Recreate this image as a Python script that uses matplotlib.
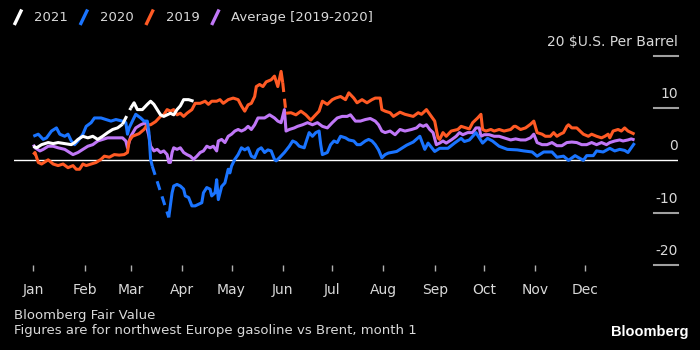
import matplotlib
matplotlib.use('Agg')
import matplotlib.pyplot as plt
from matplotlib.lines import Line2D
import numpy as np

nan = np.nan

# day of year (0 = Jan 1) and spread in $ per barrel; nan marks a data gap
days_2021 = [0, 2, 5, 9, 12, 15, 19, 23, 25, 27, 30, 33, 36, 39, 42, 45, 48, 51, 54,
             56, 59, 61, 63, 66, 69, 71, 73, 75, 77, 79, 81, 83, 85, 87, 89, 91, 94, 97]
vals_2021 = [2.7, 2.4, 3.0, 3.4, 3.2, 3.4, 3.2, 3.0, 3.4, 4.0, 4.6, 4.3, 4.6, 4.0, 4.6, 5.3, 5.9, 6.2, 6.9,
             nan, 10.0, 11.0, 9.7, 9.7, 10.7, 11.3, 10.7, 9.7, 8.7, 8.4, 8.7, 9.0, 8.7, 9.7, 10.4, 11.6, 11.6, 11.3]

days_2020 = [0, 3, 6, 8, 11, 14, 16, 19, 21, 23, 25, 27, 30, 32, 35, 37, 41, 44, 47, 50, 54, 56, 57, 58,
             60, 62, 65, 67, 69, 70, 71, 72, 77, 82, 84, 85, 87, 89, 91, 92, 94, 96, 98, 100, 102, 103,
             105, 107, 108, 110, 111, 112, 114, 116, 118, 119, 120, 122, 124, 126, 128, 130, 132, 134,
             136, 138, 140, 142, 144, 146, 147, 149, 152, 155, 157, 159, 161, 164, 165, 167, 169, 171,
             173, 174, 175, 178, 180, 182, 184, 186, 189, 191, 194, 196, 198, 201, 203, 205, 207, 209,
             211, 213, 215, 220, 226, 230, 234, 237, 239, 243, 246, 251, 255, 259, 261, 264, 268, 272,
             275, 278, 282, 287, 293, 297, 302, 305, 309, 314, 317, 321, 324, 328, 333, 335, 339, 341,
             345, 349, 352, 355, 358, 360, 364]
vals_2020 = [4.6, 5.0, 4.0, 4.3, 5.6, 6.2, 5.0, 4.6, 5.0, 3.7, 3.0, 3.7, 5.0, 6.5, 7.2, 8.1, 8.1, 7.8, 7.5, 7.8, 7.5, 7.2, 5.0, 6.2,
             7.5, 8.8, 8.1, 7.5, 7.5, 5.3, 0.2, -1.1, nan, -10.9, -6.2, -4.9, -4.6, -4.9, -5.5, -6.8, -7.1, -8.7, -8.7, -8.4, -8.1, -6.2,
             -5.2, -5.5, -6.8, -6.2, -3.7, -7.5, -5.0, -4.3, -1.7, -2.4, -1.1, 0.2, 1.1, 2.4, 2.0, 2.4, 0.8, 0.5,
             2.0, 2.4, 1.5, 2.0, 1.8, 0.2, -0.1, 0.5, 1.5, 2.7, 3.7, 3.4, 2.7, 2.4, 3.4, 5.3, 4.6, 5.3,
             5.6, 3.0, 1.1, 1.5, 3.0, 3.7, 3.4, 4.6, 4.3, 3.9, 3.7, 3.0, 3.0, 3.7, 4.0, 3.7, 3.0, 2.0,
             0.5, 1.1, 1.4, 1.7, 2.9, 3.5, 4.6, 2.1, 3.3, 1.7, 2.3, 2.3, 3.3, 4.2, 3.6, 3.9, 5.3, 3.3,
             4.2, 3.7, 2.7, 2.1, 2.0, 1.8, 1.6, 0.8, 1.6, 1.6, 0.6, 0.8, 0.0, 0.9, 0.0, 0.9, 0.9, 1.8,
             1.6, 2.3, 1.8, 2.1, 1.9, 1.5, 3.3]

days_2019 = [0, 1, 3, 5, 9, 12, 15, 18, 21, 24, 26, 28, 30, 32, 35, 38, 41, 43, 46, 49, 52, 55, 57, 58,
             60, 64, 67, 69, 71, 74, 77, 79, 81, 83, 85, 87, 89, 91, 93, 96, 98, 101, 104, 106, 108, 111,
             113, 115, 118, 121, 124, 126, 128, 130, 132, 134, 135, 137, 139, 141, 144, 146, 148, 150, 151,
             152, 153, 156, 159, 162, 165, 168, 170, 173, 175, 178, 181, 183, 186, 189, 191, 194, 196, 199,
             202, 205, 207, 210, 211, 213, 216, 218, 222, 225, 230, 233, 235, 238, 241, 243, 245, 246, 248,
             250, 253, 257, 259, 262, 264, 266, 269, 271, 272, 274, 277, 279, 282, 285, 289, 291, 292, 295,
             298, 301, 303, 305, 308, 310, 313, 315, 317, 319, 321, 323, 324, 326, 329, 331, 333, 336, 338,
             341, 344, 346, 348, 349, 351, 354, 356, 358, 360, 362, 364]
vals_2019 = [1.1, 1.5, -0.4, -0.7, 0.1, -0.7, -1.0, -0.7, -1.4, -1.0, -1.7, -1.7, -0.7, -1.0, -0.7, -0.4, 0.2, 0.8, 0.6, 1.1, 1.0, 1.1, 1.5, 3.7,
             4.6, 5.1, 5.9, 6.8, 6.8, 7.4, 8.4, 8.7, 9.7, 9.4, 9.7, 8.7, 9.0, 8.4, 9.0, 9.7, 10.9, 10.9, 11.3, 10.7, 11.3, 11.3,
             11.6, 10.9, 11.6, 11.9, 11.6, 10.4, 9.4, 10.6, 10.9, 12.2, 14.1, 14.5, 14.1, 15.0, 15.4, 16.1, 14.1, 17.0, 14.8,
             nan, 9.0, 9.1, 8.7, 9.4, 8.7, 7.7, 8.4, 9.4, 11.3, 10.7, 11.6, 11.9, 12.2, 11.6, 12.9, 11.9, 11.0, 11.6,
             11.0, 11.6, 11.9, 11.9, 9.7, 9.4, 9.1, 8.4, 9.2, 8.8, 8.4, 9.1, 8.8, 9.7, 8.4, 7.5, 4.3, 4.0, 5.3,
             4.6, 5.6, 5.9, 6.5, 6.2, 6.0, 7.2, 8.1, 8.8, 5.9, 5.6, 5.9, 5.6, 5.9, 5.6, 5.9, 6.5, 6.5, 5.9,
             6.2, 6.9, 7.5, 5.3, 5.0, 4.6, 4.6, 5.3, 4.6, 5.0, 5.3, 6.5, 6.8, 6.2, 6.2, 5.6, 5.0, 4.6, 5.0,
             4.6, 4.3, 4.6, 5.0, 4.3, 5.6, 5.9, 5.6, 6.2, 5.6, 5.3, 5.0]

days_avg = [0, 1, 4, 6, 9, 12, 15, 19, 22, 24, 27, 30, 33, 36, 39, 42, 45, 49, 54, 56, 57, 59, 62, 65,
            68, 70, 71, 73, 75, 77, 79, 81, 82, 83, 84, 85, 87, 89, 91, 93, 95, 97, 99, 101, 103, 105,
            107, 109, 111, 112, 114, 116, 118, 120, 122, 124, 126, 128, 130, 132, 134, 136, 138, 140, 143,
            146, 148, 150, 152, 153, 155, 158, 160, 163, 166, 169, 172, 175, 178, 181, 184, 187, 190, 192,
            195, 198, 201, 204, 207, 209, 211, 213, 216, 219, 222, 225, 229, 232, 234, 236, 238, 240, 242,
            244, 246, 248, 250, 253, 256, 258, 260, 263, 266, 268, 270, 271, 273, 276, 279, 282, 285, 289,
            292, 295, 298, 301, 303, 305, 308, 311, 314, 317, 320, 323, 326, 329, 332, 335, 338, 341, 344,
            347, 349, 352, 355, 357, 360, 362, 364]
vals_avg = [3.0, 2.4, 1.8, 2.1, 2.7, 2.7, 2.4, 2.1, 1.5, 1.1, 1.5, 2.1, 2.7, 3.0, 3.7, 4.0, 4.3, 4.3, 4.3, 3.7, 2.4, 4.6, 6.2, 6.8,
            7.2, 4.6, 2.7, 1.8, 2.1, 1.5, 1.8, 1.1, -0.4, -0.4, 1.5, 2.4, 2.1, 2.4, 1.5, 1.1, 0.8, 0.2, 0.8, 1.5, 1.8, 2.7,
            2.4, 2.7, 1.8, 3.7, 4.0, 3.4, 4.6, 5.0, 5.6, 5.9, 5.6, 5.9, 6.5, 5.9, 6.8, 8.1, 8.1, 8.1, 8.7,
            8.1, 7.5, 7.2, 9.7, 5.6, 5.9, 6.2, 6.5, 6.8, 7.2, 6.8, 7.2, 6.5, 6.2, 7.2, 8.1, 8.4, 8.4, 8.7,
            7.5, 7.5, 7.8, 8.0, 7.5, 6.8, 5.6, 5.3, 5.6, 4.9, 5.9, 5.6, 5.9, 6.2, 6.8, 6.5, 6.8, 5.9, 5.3,
            3.0, 3.3, 3.7, 3.3, 3.9, 4.6, 5.3, 4.9, 5.3, 5.3, 6.2, 6.2, 4.6, 4.9, 4.9, 4.6, 4.6, 4.3, 3.9,
            4.1, 3.9, 3.9, 4.3, 5.0, 3.4, 3.0, 3.0, 3.4, 2.8, 2.8, 3.4, 3.5, 3.4, 3.0, 3.0, 3.4, 3.0, 3.4,
            3.0, 3.4, 3.7, 3.9, 3.7, 3.9, 4.1, 3.9]

series = [
    ('Average [2019-2020]', days_avg, vals_avg, '#c077f7'),
    ('2019', days_2019, vals_2019, '#ff5a24'),
    ('2020', days_2020, vals_2020, '#1a74ff'),
    ('2021', days_2021, vals_2021, '#ffffff'),
]
legend_order = ['2021', '2020', '2019', 'Average [2019-2020]']

month_starts = [0, 31, 59, 90, 120, 151, 181, 212, 243, 273, 304, 334]
month_labels = ['Jan', 'Feb', 'Mar', 'Apr', 'May', 'Jun', 'Jul', 'Aug', 'Sep', 'Oct', 'Nov', 'Dec']
y_ticks = [20, 10, 0, -10, -20]

FONT = ['DejaVu Sans Condensed', 'Liberation Sans Narrow', 'DejaVu Sans']
plt.rcParams['font.family'] = FONT
TXT = '#d9d9d9'
BG = '#000000'

fig = plt.figure(figsize=(7, 3.5), dpi=100, facecolor=BG)
ax = fig.add_axes([14 / 700, 1 - 265 / 350, 664 / 700, 209.3 / 350], facecolor=BG)
ax.set_xlim(-11.7, 390.3)
ax.set_ylim(-20, 20)
for s in ax.spines.values():
    s.set_visible(False)

# zero line
ax.axhline(0, color='white', lw=1.0, zorder=1)

def draw_series(d, v, color):
    d = np.array(d, dtype=float)
    v = np.array(v, dtype=float)
    ax.plot(d, v, color=color, lw=2.2, solid_joinstyle='round', solid_capstyle='butt', zorder=3)
    # gaps in the data are bridged with a dashed segment
    for i in np.where(np.isnan(v))[0]:
        ax.plot([d[i - 1], d[i + 1]], [v[i - 1], v[i + 1]], color=color, lw=2.2,
                dashes=(3, 2.2), zorder=3)

for name, d, v, c in series:
    draw_series(d, v, c)

# right axis: short tick lines with labels sitting above them
tr = ax.get_yaxis_transform()
for yv in y_ticks:
    if yv != 0:
        ax.plot([0.964, 1.0], [yv, yv], color='#a0a0a0', lw=1.5, transform=tr, clip_on=False)
    lab = '20 $U.S. Per Barrel' if yv == 20 else str(yv)
    ax.text(1.0, yv + 1.9, lab, transform=tr, ha='right', va='baseline',
            color=TXT, fontsize=10, clip_on=False)
ax.set_yticks([])

ax.set_xticks(month_starts)
ax.set_xticklabels(month_labels)
ax.tick_params(axis='x', length=4, width=1, color='#b0b0b0', labelcolor=TXT,
               labelsize=10, pad=9)

# legend at the top
x = 15
for name in legend_order:
    c = [s[3] for s in series if s[0] == name][0]
    fig.add_artist(Line2D([x / 700, (x + 6) / 700], [1 - 23.5 / 350, 1 - 11 / 350],
                          color=c, lw=2.4, transform=fig.transFigure))
    t = fig.text((x + 19) / 700, 1 - 17.5 / 350, name, color=TXT, fontsize=9.5,
                 ha='left', va='center')
    fig.canvas.draw()
    bb = t.get_window_extent()
    x = bb.x1 + 13

fig.text(14 / 700, 1 - 316 / 350, 'Bloomberg Fair Value', color=TXT, fontsize=9.5,
         ha='left', va='center')
fig.text(14 / 700, 1 - 330.5 / 350, 'Figures are for northwest Europe gasoline vs Brent, month 1',
         color=TXT, fontsize=9.5, ha='left', va='center')
fig.text(688 / 700, 1 - 332 / 350, 'Bloomberg', color='white', fontsize=10.5,
         fontweight='bold', ha='right', va='center', family=['Liberation Sans', 'DejaVu Sans'])

fig.savefig('out.png', dpi=100, facecolor=BG)
